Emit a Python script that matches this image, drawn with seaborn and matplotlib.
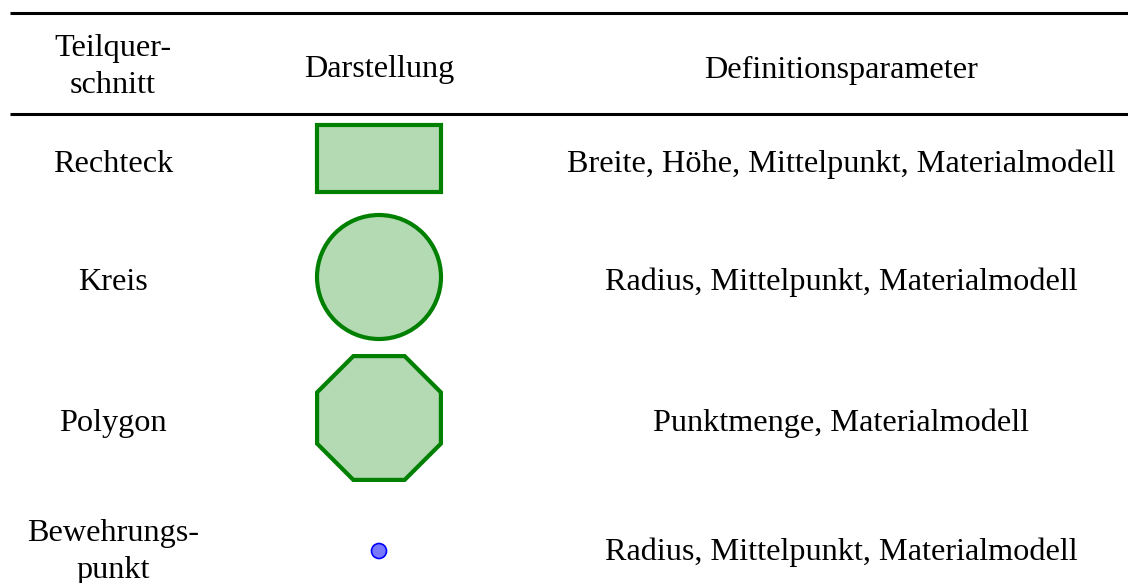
import matplotlib
matplotlib.use('Agg')
import matplotlib.pyplot as plt
import matplotlib.patches as mpatches
import seaborn as sns
import numpy as np

# Table content
header = ['Teilquer-\nschnitt', 'Darstellung', 'Definitionsparameter']
names = ['Rechteck', 'Kreis', 'Polygon', 'Bewehrungs-\npunkt']
shapes = ['rect', 'circle', 'octagon', 'dot']
params = ['Breite, Höhe, Mittelpunkt, Materialmodell',
          'Radius, Mittelpunkt, Materialmodell',
          'Punktmenge, Materialmodell',
          'Radius, Mittelpunkt, Materialmodell']

sns.set_style('white')
plt.rcParams['font.family'] = ['Liberation Serif', 'DejaVu Serif']
plt.rcParams['text.color'] = 'black'

W, H = 1128, 583
fig = plt.figure(figsize=(W / 100, H / 100), dpi=100)
ax = fig.add_axes([0, 0, 1, 1])
ax.set_xlim(0, W)
ax.set_ylim(H, 0)
ax.set_axis_off()

col_x = [113, 379, 841]
head_y = [67, 70, 70]
row_y = [164, 282, 423, 552]
fs = 23.2

# rules
ax.plot([10, W], [13, 13], color='black', lw=2.2, solid_capstyle='butt')
ax.plot([10, W], [114, 114], color='black', lw=2.2, solid_capstyle='butt')

for x, y, t in zip(col_x, head_y, header):
    ax.text(x, y, t, ha='center', va='center', fontsize=fs,
            linespacing=1.38, color='black')

green_face = (0.70, 0.855, 0.70)
for y, n, s, p in zip(row_y, names, shapes, params):
    ax.text(col_x[0], y, n, ha='center', va='center', fontsize=fs,
            linespacing=1.38, color='black')
    ax.text(col_x[2], y, p, ha='center', va='center', fontsize=fs,
            color='black')
    cx = col_x[1]
    if s == 'rect':
        patch = mpatches.Rectangle((cx - 62, 125), 124, 67,
                                   fc=green_face, ec='green', lw=3)
    elif s == 'circle':
        patch = mpatches.Circle((cx, 277), 62, fc=green_face, ec='green',
                                lw=3)
    elif s == 'octagon':
        patch = mpatches.RegularPolygon((cx, 418), 8, radius=67,
                                        orientation=np.pi / 8,
                                        fc=green_face, ec='green', lw=3)
    else:
        patch = mpatches.Circle((cx, 551), 7.5, fc=(0.47, 0.47, 1.0),
                                ec='blue', lw=1.2)
    ax.add_patch(patch)

fig.savefig('out.png', dpi=100)
